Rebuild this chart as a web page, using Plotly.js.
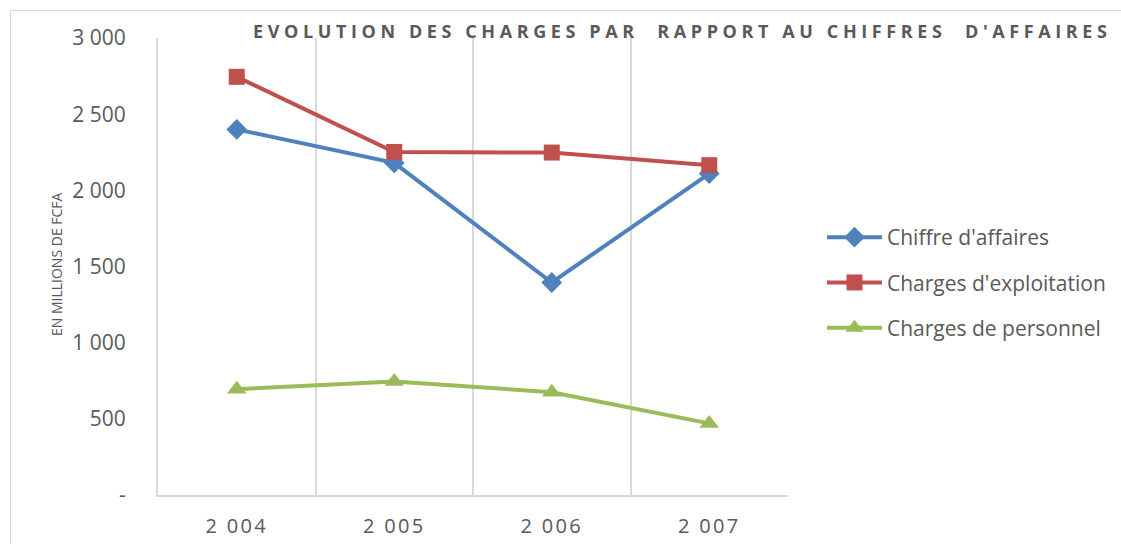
<!DOCTYPE html>
<html>
<head>
<meta charset="utf-8">
<script src="https://cdn.plot.ly/plotly-3.0.1.min.js"></script>
<style>
  html, body { margin: 0; padding: 0; background: #fff; }
  #wrap { position: relative; width: 1121px; height: 544px; }
  #chart { position: absolute; left: 0; top: 0; width: 1121px; height: 544px; }
  #frame { position: absolute; left: 10px; top: 10px; width: 1120px; height: 540px;
           border: 1.5px solid #D9D9D9; box-sizing: border-box; pointer-events: none; }
  .gtitle { letter-spacing: 4.6px; }
  .xtick text { letter-spacing: 2.3px; }
</style>
</head>
<body>
<div id="wrap"><div id="chart"></div><div id="frame"></div></div>
<script>
const years = ["2 004", "2 005", "2 006", "2 007"];
const chiffreAffaires = [2400, 2180, 1395, 2110];
const chargesExploitation = [2745, 2252, 2248, 2165];
const chargesPersonnel = [695, 745, 675, 470];
const yTickVals = [0, 500, 1000, 1500, 2000, 2500, 3000];
const yTickText = ["-", "500", "1 000", "1 500", "2 000", "2 500", "3 000"];

const textColor = "#595959";
const font = "Open Sans, sans-serif";

const traces = [
  { name: "Chiffre d'affaires", y: chiffreAffaires, color: "#4F81BD", symbol: "diamond", size: 16, group: "a" },
  { name: "Charges d'exploitation", y: chargesExploitation, color: "#C0504D", symbol: "square", size: 16, group: "b" },
  { name: "Charges de personnel", y: chargesPersonnel, color: "#9BBB59", symbol: "triangle-up", size: 17, group: "c" }
].map(t => ({
  type: "scatter", mode: "lines+markers", name: t.name, x: years, y: t.y,
  legendgroup: t.group,
  line: { color: t.color, width: 4 },
  marker: { color: t.color, symbol: t.symbol, size: t.size }
}));

const layout = {
  width: 1121, height: 544,
  margin: { l: 158, r: 333, t: 38, b: 49 },
  paper_bgcolor: "#fff", plot_bgcolor: "#fff",
  font: { family: font, color: textColor },
  title: {
    text: "<b>EVOLUTION DES CHARGES PAR  RAPPORT AU CHIFFRES  D'AFFAIRES</b>",
    font: { family: font, size: 18, color: textColor },
    xref: "container", yref: "container", x: 253 / 1121, xanchor: "left",
    y: 1 - 32 / 544, yanchor: "middle"
  },
  xaxis: {
    type: "category", range: [-0.5, 3.5],
    tickson: "boundaries", showgrid: true, gridcolor: "#D9D9D9", gridwidth: 2,
    showline: true, linecolor: "#D9D9D9", linewidth: 2,
    ticks: "", tickfont: { family: font, size: 20, color: textColor },
    ticklabelstandoff: 12, zeroline: false, fixedrange: true
  },
  yaxis: {
    range: [0, 3000], tickvals: yTickVals, ticktext: yTickText,
    showgrid: false, zeroline: false, showline: true, linecolor: "#D9D9D9", linewidth: 2,
    ticks: "", tickfont: { family: font, size: 21, color: textColor },
    ticklabelstandoff: 26, fixedrange: true
  },
  legend: {
    x: 822 / 1121, xref: "container", y: 1 - 217 / 544, yref: "container",
    xanchor: "left", yanchor: "top",
    font: { family: font, size: 21, color: textColor },
    traceorder: "grouped", tracegroupgap: 15, itemwidth: 55, bgcolor: "rgba(0,0,0,0)"
  },
  annotations: [{
    text: "EN MILLIONS DE FCFA", textangle: -90,
    xref: "paper", yref: "paper", x: (56 - 158) / 630, y: (495 - 264) / 457,
    xanchor: "center", yanchor: "middle", showarrow: false,
    font: { family: font, size: 14, color: textColor }
  }],
  showlegend: true
};

Plotly.newPlot("chart", traces, layout, { displayModeBar: false, staticPlot: true });
</script>
</body>
</html>
